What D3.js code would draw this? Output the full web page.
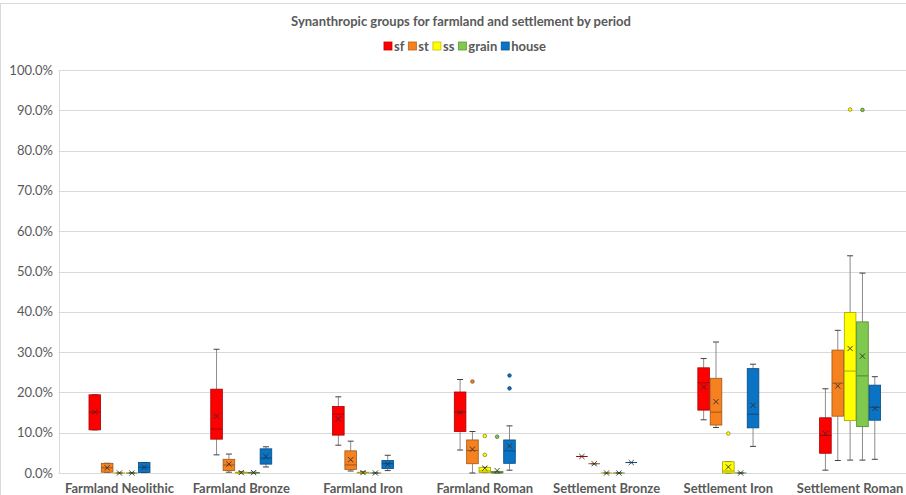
<!DOCTYPE html>
<html><head><meta charset="utf-8">
<script src="https://cdn.jsdelivr.net/npm/d3@7"></script>
<style>
html,body{margin:0;padding:0;background:#fff;}
svg{display:block;font-family:Lato,"Open Sans",sans-serif;}
</style></head>
<body><svg id="c" width="906" height="495"></svg>
<script>
const categories = ["Farmland Neolithic","Farmland Bronze","Farmland Iron","Farmland Roman","Settlement Bronze","Settlement Iron","Settlement Roman"];
const seriesNames = ["sf","st","ss","grain","house"];
const seriesColors = ["#FF0000","#F5821F","#FFFF00","#7FC94F","#0B73C4"];
const yTicks = [0,10,20,30,40,50,60,70,80,90,100];
// stats per category: [whiskerLow, q1, median, q3, whiskerHigh, mean] in %
const sfStats = [
  [10.7,10.7,15.1,19.4,19.4,15.1],
  [4.5,8.4,10.9,20.8,30.7,14.1],
  [6.9,9.4,14.6,16.5,18.9,13.4],
  [5.7,10.3,15.1,20.1,23.2,15.0],
  [4.1,4.1,4.1,4.1,4.1,4.1],
  [13.2,15.6,22.4,26.1,28.4,21.3],
  [0.7,4.9,9.3,13.7,20.9,9.8]
];
const stStats = [
  [0.2,0.2,1.3,2.4,2.4,1.3],
  [0.2,0.6,2.0,3.4,4.7,2.2],
  [0.5,0.9,2.0,5.5,7.9,3.3],
  [0.0,2.3,5.6,8.2,10.3,5.9],
  [2.3,2.3,2.3,2.3,2.3,2.3],
  [11.3,11.9,15.1,23.5,32.5,17.7],
  [3.1,14.1,22.3,30.5,35.4,21.6]
];
const ssStats = [
  [0,0,0,0,0,0],
  [0,0,0.1,0.2,0.3,0.1],
  [0,0,0.1,0.2,0.3,0.1],
  [0.1,0.1,0.5,1.4,1.4,1.2],
  [0,0,0,0,0,0],
  [0,0,0.5,2.8,2.8,1.5],
  [3.2,13.0,25.3,39.8,53.9,30.9]
];
const grainStats = [
  [0,0,0,0,0,0],
  [0,0,0.05,0.1,0.2,0.1],
  [0,0,0,0,0,0],
  [0,0,0.1,0.4,0.4,0.6],
  [0,0,0,0,0,0],
  [0,0,0,0,0,0],
  [3.2,11.5,24.1,37.5,49.6,29.0]
];
const houseStats = [
  [0.1,0.1,1.4,2.6,2.6,1.4],
  [1.5,2.2,3.7,6.0,6.5,4.1],
  [0.6,1.1,2.3,3.1,4.4,2.2],
  [0.7,2.4,5.5,8.2,11.7,6.7],
  [2.6,2.6,2.6,2.6,2.6,2.6],
  [6.6,11.2,14.6,25.9,27.0,16.8],
  [3.4,13.1,16.3,21.8,23.9,16.0]
];
// outliers: [categoryIndex, seriesIndex, value%]
const outliers = [
  [3,1,22.7],
  [3,2,9.2],[3,2,4.5],
  [3,3,9.0],
  [3,4,24.2],[3,4,21.0],
  [5,2,9.8],
  [6,2,90.2],[6,3,90.1]
];
const allStats = [sfStats, stStats, ssStats, grainStats, houseStats];

const svg = d3.select("#c");
const W = 906, H = 495;
const plotLeft = 58.6, plotRight = 911, plotTop = 70, plotBottom = 473;
const y = d3.scaleLinear().domain([0,100]).range([plotBottom, plotTop]);
const x = d3.scaleBand().domain(categories).range([plotLeft, plotRight]);
const xs = d3.scaleBand().domain(seriesNames).range([-30.5, 30.5]).paddingInner(0.06);
const txt = "#595959";

// border
svg.append("rect").attr("x",0.5).attr("y",3.5).attr("width",W+5).attr("height",H).attr("fill","none").attr("stroke","#d9d9d9");

// gridlines
svg.append("g").selectAll("line").data(yTicks).join("line")
  .attr("x1", plotLeft).attr("x2", W).attr("y1", d=>Math.round(y(d))+0.5).attr("y2", d=>Math.round(y(d))+0.5)
  .attr("stroke","#d9d9d9").attr("stroke-width",1);
svg.append("line").attr("x1",Math.round(plotLeft)+0.5).attr("x2",Math.round(plotLeft)+0.5).attr("y1",plotTop).attr("y2",plotBottom)
  .attr("stroke","#d9d9d9");

// y labels
svg.append("g").selectAll("text").data(yTicks).join("text")
  .attr("x", 53).attr("y", d=>y(d)).attr("dy","0.35em").attr("text-anchor","end")
  .attr("font-size",13).attr("fill",txt).text(d=>d.toFixed(1)+"%");

// x labels
svg.append("g").selectAll("text").data(categories).join("text")
  .attr("x", d=>x(d)+x.bandwidth()/2).attr("y", 493).attr("text-anchor","middle")
  .attr("font-size",13).attr("font-weight","bold").attr("fill",txt).text(d=>d);

// title
svg.append("text").attr("x",461).attr("y",26).attr("text-anchor","middle")
  .attr("font-size",13).attr("font-weight","bold").attr("fill",txt)
  .text("Synanthropic groups for farmland and settlement by period");

// legend
const lg = svg.append("g");
let lx = 0;
seriesNames.forEach((s,i)=>{
  const g = lg.append("g").attr("transform",`translate(${lx},0)`);
  g.append("rect").attr("x",0).attr("y",-4).attr("width",8).attr("height",8)
    .attr("fill",seriesColors[i]).attr("stroke",d3.color(seriesColors[i]).darker(0.8)).attr("stroke-width",0.8);
  const t = g.append("text").attr("x",10).attr("y",0).attr("dy","0.35em")
    .attr("font-size",13).attr("font-weight","bold").attr("fill",txt).text(s);
  lx += 10 + t.node().getComputedTextLength() + 4;
});
lg.attr("transform",`translate(${465 - (lx-4)/2},46)`);

// boxes
const boxes = svg.append("g");
const bw = xs.bandwidth();
allStats.forEach((stats, si)=>{
  const s = seriesNames[si];
  const fill = seriesColors[si];
  const dark = d3.color(fill).darker(1.2).formatHex();
  stats.forEach((st, ci)=>{
    const [lo,q1,med,q3,hi,mean] = st;
    const cx = x(categories[ci]) + x.bandwidth()/2 + xs(s) + bw/2;
    const g = boxes.append("g");
    const wc = "#8c8c8c";
    g.append("line").attr("x1",cx).attr("x2",cx).attr("y1",y(hi)).attr("y2",y(q3)).attr("stroke",wc);
    g.append("line").attr("x1",cx).attr("x2",cx).attr("y1",y(q1)).attr("y2",y(lo)).attr("stroke",wc);
    g.append("line").attr("x1",cx-3).attr("x2",cx+3).attr("y1",y(hi)).attr("y2",y(hi)).attr("stroke","#404040");
    g.append("line").attr("x1",cx-3).attr("x2",cx+3).attr("y1",y(lo)).attr("y2",y(lo)).attr("stroke","#404040");
    g.append("rect").attr("x",cx-bw/2).attr("y",y(q3)).attr("width",bw).attr("height",Math.max(0,y(q1)-y(q3)))
      .attr("fill",fill).attr("stroke",dark).attr("stroke-width",0.8);
    g.append("line").attr("x1",cx-bw/2).attr("x2",cx+bw/2).attr("y1",y(med)).attr("y2",y(med))
      .attr("stroke",dark).attr("stroke-width",1);
    const m = y(mean), r = 2.6;
    g.append("path").attr("d",`M${cx-r},${m-r}L${cx+r},${m+r}M${cx-r},${m+r}L${cx+r},${m-r}`)
      .attr("stroke","#303030").attr("stroke-width",0.9).attr("fill","none");
  });
});

// outliers
svg.append("g").selectAll("circle").data(outliers).join("circle")
  .attr("cx", d=>x(categories[d[0]]) + x.bandwidth()/2 + xs(seriesNames[d[1]]) + bw/2)
  .attr("cy", d=>y(d[2])).attr("r",1.8)
  .attr("fill", d=>seriesColors[d[1]]).attr("stroke", d=>d3.color(seriesColors[d[1]]).darker(2)).attr("stroke-width",0.7);
</script></body></html>
